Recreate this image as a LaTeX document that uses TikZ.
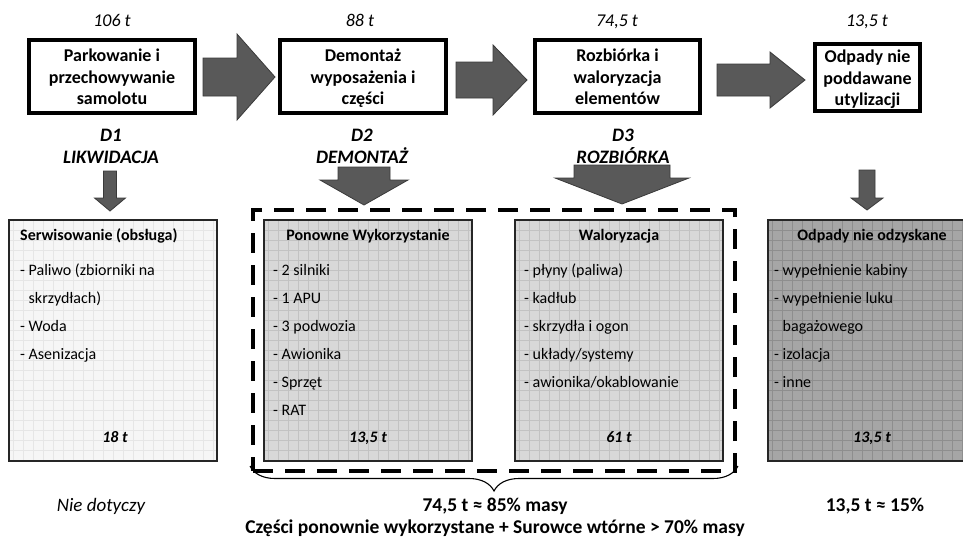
\documentclass[tikz,border=0pt]{standalone}
\usepackage{fontspec}
\setmainfont{Carlito}
\usetikzlibrary{decorations.pathreplacing}
\definecolor{arrowgray}{HTML}{595959}
\definecolor{arrowline}{HTML}{3A3A3A}
\definecolor{fillA}{HTML}{F6F6F6}
\definecolor{gridA}{HTML}{E6E6E6}
\definecolor{fillB}{HTML}{D8D8D8}
\definecolor{gridB}{HTML}{C2C2C2}
\definecolor{fillC}{HTML}{A6A6A6}
\definecolor{gridC}{HTML}{8E8E8E}
\newcommand\blockR[6]{%
  \draw[blockarrow] (#1,#4-#5) -- (#2,#4-#5) -- (#2,#4-#6) -- (#3,#4) -- (#2,#4+#6) -- (#2,#4+#5) -- (#1,#4+#5) -- cycle;}
\newcommand\blockD[6]{%
  \draw[blockarrow] (#1-#5,#2) -- (#1+#5,#2) -- (#1+#5,#3) -- (#1+#6,#3) -- (#1,#4) -- (#1-#6,#3) -- (#1-#5,#3) -- cycle;}
\begin{document}
\begin{tikzpicture}[x=1pt,y=-1pt,
  topbox/.style={draw=black,line width=4pt,fill=white,align=center,inner sep=0pt,
    text height=56pt,text depth=0pt,font=\fontsize{18}{21.5}\selectfont\bfseries},
  weight/.style={anchor=base,inner sep=0pt,font=\fontsize{18}{20}\selectfont\itshape},
  dlabel/.style={align=center,inner sep=0pt,text height=35pt,text depth=0pt,font=\fontsize{19}{22}\selectfont\bfseries\itshape},
  blockarrow/.style={fill=arrowgray,draw=arrowline,line width=0.8pt},
  cbox/.style={draw=black!85,line width=1.3pt,inner sep=0pt,minimum width=208pt,minimum height=241pt},
  ctitle/.style={anchor=base,inner sep=0pt,font=\fontsize{16}{18}\selectfont\bfseries},
  citem/.style={anchor=base west,inner sep=0pt,font=\fontsize{16}{18}\selectfont},
  cweight/.style={anchor=base,inner sep=0pt,font=\fontsize{16}{18}\selectfont\bfseries\itshape},
  bottomtxt/.style={anchor=base,inner sep=0pt,font=\fontsize{19.5}{22}\selectfont\bfseries},
  gridded/.style={path picture={\draw[#1,line width=0.45pt] ([xshift=-1pt,yshift=-1pt]path picture bounding box.south west) grid[step=10pt] (path picture bounding box.north east);}}
]
\useasboundingbox (0,0) rectangle (963,538);
\clip (0,0) rectangle (963,538);

% weights above
\node[weight] (w1) at (112,26) {106 t};
\node[weight] (w2) at (360,26) {88 t};
\node[weight] (w3) at (617,26) {74,5 t};
\node[weight] (w4) at (867,26) {13,5 t};

% top boxes
\node[topbox,minimum width=166pt,minimum height=73pt] (b1) at (112,76.5) {Parkowanie i\\przechowywanie\\samolotu};
\node[topbox,minimum width=166pt,minimum height=73pt] (b2) at (363,76.5) {Demontaż\\wyposażenia i\\części};
\node[topbox,minimum width=165pt,minimum height=73pt] (b3) at (617.5,76.5) {Rozbiórka i\\waloryzacja\\elementów};
\node[topbox,minimum width=105pt,minimum height=67pt] (b4) at (867.5,77.5) {Odpady nie\\poddawane\\utylizacji};

% horizontal block arrows
\blockR{203}{237}{275}{77}{19}{43}
\blockR{456}{493}{527}{80}{18}{35}
\blockR{717}{770}{805}{80}{16}{28}

% D labels
\node[dlabel] (d1) at (111,145.5) {D1\\LIKWIDACJA};
\node[dlabel] (d2) at (362,145.5) {D2\\DEMONTAŻ};
\node[dlabel] (d3) at (623,145.5) {D3\\ROZBIÓRKA};

% down block arrows
\blockD{110}{171}{198}{211}{6.5}{15.5}
\blockD{364}{167}{180}{205}{26}{44}
\blockD{622}{165}{178}{204}{48}{67}
\blockD{867}{170}{198}{210}{8}{16}

% dashed group
\node[draw=black,line width=3.5pt,dash pattern=on 20pt off 12pt,minimum width=482pt,minimum height=261pt,inner sep=0pt] (grp) at (494,340.5) {};

% bottom boxes
\node[cbox,fill=fillA,gridded=gridA] (c1) at (113,340.5) {};
\node[cbox,fill=fillB,gridded=gridB] (c2) at (368,340.5) {};
\node[cbox,fill=fillB,gridded=gridB] (c3) at (619,340.5) {};
\node[cbox,fill=fillC,gridded=gridC] (c4) at (872,340.5) {};

% box 1
\node[ctitle,anchor=base west] (t1) at (20,240.5) {Serwisowanie (obsługa)};
\node[citem] (i11) at (20,275.5) {- Paliwo (zbiorniki na};
\node[citem] (i12) at (20,303.5) {\phantom{- }skrzydłach)};
\node[citem] (i13) at (20,331.5) {- Woda};
\node[citem] (i14) at (20,359.5) {- Asenizacja};
\node[cweight] (m1) at (115,442.5) {18 t};

% box 2
\node[ctitle] (t2) at (368,240.5) {Ponowne Wykorzystanie};
\node[citem] (i21) at (273,275.5) {- 2 silniki};
\node[citem] (i22) at (273,303.5) {- 1 APU};
\node[citem] (i23) at (273,331.5) {- 3 podwozia};
\node[citem] (i24) at (273,359.5) {- Awionika};
\node[citem] (i25) at (273,387.5) {- Sprzęt};
\node[citem] (i26) at (273,415.5) {- RAT};
\node[cweight] (m2) at (368,442.5) {13,5 t};

% box 3
\node[ctitle] (t3) at (619,240.5) {Waloryzacja};
\node[citem] (i31) at (524,275.5) {- płyny (paliwa)};
\node[citem] (i32) at (524,303.5) {- kadłub};
\node[citem] (i33) at (524,331.5) {- skrzydła i ogon};
\node[citem] (i34) at (524,359.5) {- układy/systemy};
\node[citem] (i35) at (524,387.5) {- awionika/okablowanie};
\node[cweight] (m3) at (619,442.5) {61 t};

% box 4
\node[ctitle] (t4) at (872,240.5) {Odpady nie odzyskane};
\node[citem] (i41) at (774,275.5) {- wypełnienie kabiny};
\node[citem] (i42) at (774,303.5) {- wypełnienie luku};
\node[citem] (i43) at (774,331.5) {\phantom{- }bagażowego};
\node[citem] (i44) at (774,359.5) {- izolacja};
\node[citem] (i45) at (774,387.5) {- inne};
\node[cweight] (m4) at (872,442.5) {13,5 t};

% brace
\coordinate (brL) at (250,466);
\coordinate (brR) at (738,466);
\draw[line width=1.1pt,decorate,decoration={brace,mirror,amplitude=25pt,aspect=0.5}] (brL) -- (brR);

% bottom texts
\node[anchor=base,inner sep=0pt,font=\fontsize{19}{22}\selectfont\itshape] (nd) at (101,511) {Nie dotyczy};
\node[bottomtxt] (s1) at (495,511) {74,5 t ≈ 85\% masy};
\node[bottomtxt] (s2) at (495,533) {Części ponownie wykorzystane + Surowce wtórne > 70\% masy};
\node[bottomtxt] (s3) at (875,511) {13,5 t ≈ 15\%};
\end{tikzpicture}
\end{document}
